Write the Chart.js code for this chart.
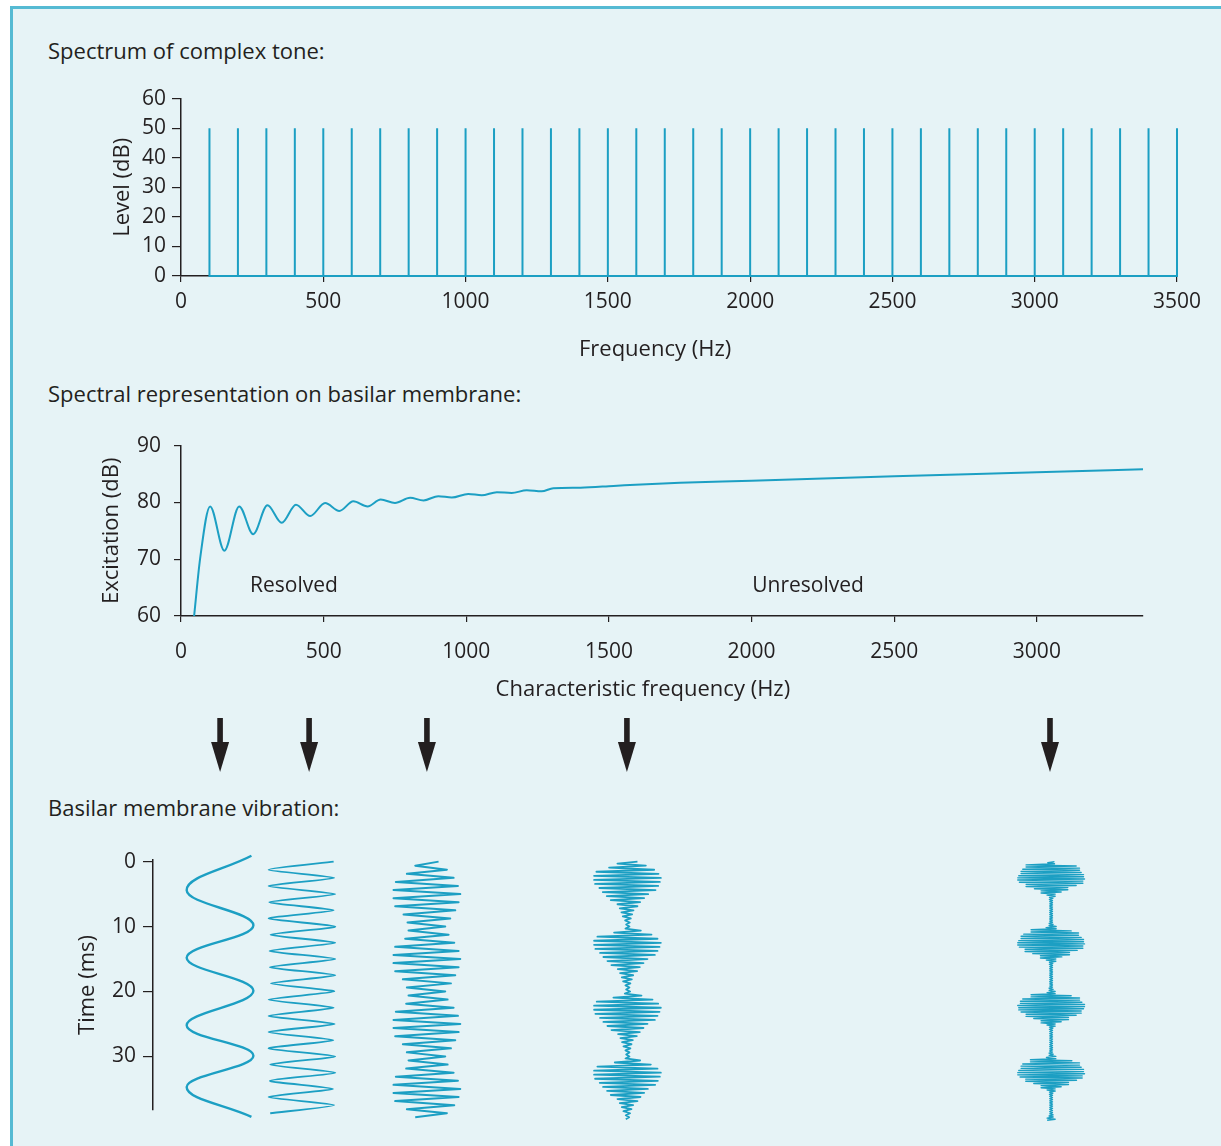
<!DOCTYPE html>
<html>
<head>
<meta charset="utf-8">
<script src="https://cdn.jsdelivr.net/npm/chart.js@4.4.0/dist/chart.umd.min.js"></script>
<style>
  html, body { margin: 0; padding: 0; background: #fff; }
  body { width: 1221px; height: 1146px; position: relative; overflow: hidden;
         font-family: "Open Sans", sans-serif; color: #231f20; }
  #frame { position: absolute; left: 10px; top: 6px; width: 1240px; height: 1200px;
           border: 3px solid #55bad3; background: #e6f3f6; }
  .head { position: absolute; left: 48px; font-size: 22px; font-weight: 500; line-height: 24px; white-space: nowrap; }
  canvas { position: absolute; left: 0; }
</style>
</head>
<body>
<div id="frame"></div>
<div class="head" style="top:38px">Spectrum of complex tone:</div>
<div class="head" style="top:381px">Spectral representation on basilar membrane:</div>
<div class="head" style="top:795px">Basilar membrane vibration:</div>
<canvas id="spectrum" width="1221" height="300" style="top:80px"></canvas>
<canvas id="excitation" width="1221" height="370" style="top:420px"></canvas>
<canvas id="vibration" width="1221" height="316" style="top:830px"></canvas>
<script>
// spectrum of the complex tone
const harmonicsHz = [100, 200, 300, 400, 500, 600, 700, 800, 900, 1000, 1100, 1200, 1300, 1400, 1500, 1600, 1700,
  1800, 1900, 2000, 2100, 2200, 2300, 2400, 2500, 2600, 2700, 2800, 2900, 3000, 3100, 3200, 3300, 3400, 3500];
const harmonicLevelsDb = [50, 50, 50, 50, 50, 50, 50, 50, 50, 50, 50, 50, 50, 50, 50, 50, 50,
  50, 50, 50, 50, 50, 50, 50, 50, 50, 50, 50, 50, 50, 50, 50, 50, 50, 50];
const spectrumFreqTicks = [0, 500, 1000, 1500, 2000, 2500, 3000, 3500];
const spectrumLevelTicks = [0, 10, 20, 30, 40, 50, 60];

// excitation pattern
const excitationCfHz = [46, 67, 102, 152, 204, 253, 303, 353, 403, 453, 505, 555, 604, 654, 700, 750, 803, 850,
  902, 949, 1007, 1054, 1107, 1159, 1212, 1264, 1305, 1400, 1516, 1632, 1749, 2000, 2500, 3000, 3372];
const excitationDb = [60, 70.1, 79.3, 71.5, 79.3, 74.4, 79.5, 76.4, 79.6, 77.6, 79.9, 78.5, 80.2, 79.3, 80.5, 79.9, 80.8, 80.35,
  81.1, 80.85, 81.5, 81.25, 81.8, 81.65, 82.15, 81.95, 82.5, 82.6, 82.9, 83.2, 83.45, 83.8, 84.6, 85.3, 85.85];
const cfTicks = [0, 500, 1000, 1500, 2000, 2500, 3000];
const excitationTicks = [60, 70, 80, 90];
const regionLabels = ['Resolved', 'Unresolved'];
const regionLabelCfHz = [396, 2198];
const regionLabelDb = [65.3, 65.3];

// basilar membrane vibration at five places
const channelCfHz = [137, 449, 862, 1563, 3046];
const traceCentreHz = [137, 424, 862, 1565, 3050];
const channelCarrierHz = [100, 400, 800, 1600, 3000];
const wave1TimeMs = [-0.9, 4.4, 9.8, 14.8, 19.9, 25.2, 29.9, 34.7, 39.3];
const wave1Level = [0.94, -1, 1, -1, 1, -1, 1, -1, 0.94];
// envelopes read every 1 ms (waves 2, 3) and every 0.5 ms (waves 4, 5)
const wave2Envelope = [0.95, 1, 0.97, 1, 0.93, 1, 0.98, 0.95, 1, 0.96, 1, 0.94, 1, 0.97, 0.95, 1, 0.96, 1, 0.93, 1,
  0.97, 1, 0.95, 1, 0.96, 0.98, 1, 0.94, 1, 0.97, 1, 0.95, 1, 0.96, 1, 0.93, 1, 0.97, 0.95, 1];
const wave3Envelope = [0.35, 0.6, 0.8, 0.93, 1.0, 1.0, 0.95, 0.85, 0.7, 0.58, 0.55, 0.65, 0.82, 0.95, 1.0, 1.0, 0.95, 0.85, 0.72, 0.6,
  0.55, 0.62, 0.8, 0.93, 1.0, 1.0, 0.95, 0.85, 0.72, 0.6, 0.55, 0.62, 0.8, 0.93, 1.0, 1.0, 0.95, 0.82, 0.6, 0.35];
const wave4Envelope = [
  0.3, 0.55, 0.8, 0.93, 1, 1, 0.97, 0.92, 0.84, 0.74, 0.62, 0.5, 0.38, 0.3, 0.23, 0.18, 0.14, 0.1, 0.07, 0.04,
  0.06, 0.4, 0.72, 0.9, 1, 1, 0.96, 0.9, 0.82, 0.72, 0.6, 0.48, 0.37, 0.29, 0.22, 0.17, 0.13, 0.09, 0.06, 0.04,
  0.08, 0.42, 0.75, 0.92, 1, 1, 0.96, 0.9, 0.82, 0.72, 0.6, 0.48, 0.37, 0.28, 0.21, 0.16, 0.12, 0.09, 0.06, 0.04,
  0.06, 0.38, 0.7, 0.9, 1, 1, 0.97, 0.91, 0.83, 0.73, 0.61, 0.5, 0.39, 0.3, 0.23, 0.17, 0.12, 0.08, 0.05, 0.05];
const wave5Envelope = [
  0.1, 0.75, 0.85, 0.9, 0.97, 1, 0.95, 0.75, 0.5, 0.3, 0.12, 0.05, 0.04, 0.04, 0.04, 0.04, 0.04, 0.04, 0.04, 0.06,
  0.15, 0.6, 0.82, 0.9, 0.97, 1, 0.95, 0.78, 0.55, 0.32, 0.14, 0.05, 0.04, 0.04, 0.04, 0.04, 0.04, 0.04, 0.04, 0.06,
  0.12, 0.6, 0.85, 0.92, 1, 0.97, 0.9, 0.75, 0.52, 0.3, 0.12, 0.05, 0.04, 0.04, 0.04, 0.04, 0.04, 0.04, 0.04, 0.06,
  0.14, 0.62, 0.85, 0.9, 0.97, 1, 0.93, 0.76, 0.52, 0.3, 0.12, 0.05, 0.04, 0.04, 0.04, 0.04, 0.04, 0.04, 0.06, 0.12];
const timeTicks = [0, 10, 20, 30];

const CYAN = '#1c9fc3';
const INK = '#231f20';
const TRACE_HALF_WIDTH_HZ = 117;
const FONT = '"Open Sans", sans-serif';

Chart.defaults.font.family = FONT;
Chart.defaults.font.size = 21;
Chart.defaults.font.weight = 500;
Chart.defaults.color = INK;

function fixedTicks(list) {
  return scale => { scale.ticks = list.map(v => ({ value: v })); };
}

// one stem per harmonic, joined along 0 dB
const spectrumPoints = [];
harmonicsHz.forEach((f, i) => {
  spectrumPoints.push({ x: f, y: 0 }, { x: f, y: harmonicLevelsDb[i] }, { x: f, y: 0 });
});

const excitationPoints = excitationCfHz.map((f, i) => ({ x: f, y: excitationDb[i] }));

// half-cycle peaks of the carrier, scaled by the envelope
function tracePoints(cf, carrier, env, stepMs) {
  const half = 500 / carrier;
  const endMs = env.length * stepMs;
  const pts = [];
  for (let k = 0; k * half < endMs; k++) {
    const t = k * half;
    const a = env[Math.floor(t / stepMs + 1e-9)];
    pts.push({ x: cf + (k % 2 ? -a : a) * TRACE_HALF_WIDTH_HZ, y: t });
  }
  return pts;
}

const wave1Points = wave1TimeMs.map((t, i) => ({ x: traceCentreHz[0] + wave1Level[i] * TRACE_HALF_WIDTH_HZ, y: t }));
const tracePointSets = [
  wave1Points,
  tracePoints(traceCentreHz[1], channelCarrierHz[1], wave2Envelope, 1),
  tracePoints(traceCentreHz[2], channelCarrierHz[2], wave3Envelope, 1),
  tracePoints(traceCentreHz[3], channelCarrierHz[3], wave4Envelope, 0.5),
  tracePoints(traceCentreHz[4], channelCarrierHz[4], wave5Envelope, 0.5)
];

const axisGrid = len => ({ drawOnChartArea: false, tickLength: len, color: INK, lineWidth: 1.2 });
const axisBorder = { color: INK, width: 1.5 };
const noPlugins = { legend: { display: false }, tooltip: { enabled: false } };

// x-axis caption placed under a given value, a little left of centre as in the figure
const axisCaption = {
  id: 'axisCaption',
  afterDraw(chart, args, opts) {
    const { ctx } = chart;
    ctx.save();
    ctx.fillStyle = INK;
    ctx.font = '500 22px ' + FONT;
    ctx.textAlign = 'center';
    ctx.textBaseline = 'middle';
    ctx.fillText(opts.text, chart.scales.x.getPixelForValue(opts.at), chart.chartArea.bottom + opts.offset);
    ctx.restore();
  }
};

// top panel
new Chart(document.getElementById('spectrum'), {
  type: 'line',
  data: { datasets: [{ data: spectrumPoints, borderColor: CYAN, borderWidth: 2, pointRadius: 0, tension: 0, clip: false }] },
  options: {
    responsive: false, animation: false, events: [],
    layout: { padding: { left: 0, right: 44, top: 15, bottom: 0 } },
    plugins: { ...noPlugins, axisCaption: { text: 'Frequency (Hz)', at: 1666, offset: 74 } },
    scales: {
      x: {
        type: 'linear', min: 0, max: 3500,
        afterBuildTicks: fixedTicks(spectrumFreqTicks),
        afterFit: s => { s.height = 104; },
        grid: axisGrid(6), border: axisBorder,
        ticks: { padding: 7, maxRotation: 0, callback: v => String(v) }
      },
      y: {
        min: 0, max: 60,
        afterBuildTicks: fixedTicks(spectrumLevelTicks),
        afterFit: s => { s.width = 181; },
        grid: axisGrid(9), border: axisBorder,
        ticks: { padding: 6, callback: v => String(v) },
        title: { display: true, text: 'Level (dB)', font: { size: 22 }, padding: { top: 110, bottom: 0 } }
      }
    }
  },
  plugins: [axisCaption]
});

// labels and arrows for the middle panel
const middleExtras = {
  id: 'middleExtras',
  afterDraw(chart) {
    const { ctx, scales: { x, y } } = chart;
    ctx.save();
    ctx.fillStyle = INK;
    ctx.font = '500 21px ' + FONT;
    ctx.textAlign = 'center';
    ctx.textBaseline = 'middle';
    regionLabels.forEach((t, i) => {
      ctx.fillText(t, x.getPixelForValue(regionLabelCfHz[i]), y.getPixelForValue(regionLabelDb[i]));
    });
    const top = chart.chartArea.bottom + 102;
    channelCfHz.forEach(cf => {
      const px = x.getPixelForValue(cf);
      ctx.fillRect(px - 2.8, top, 5.6, 26);
      ctx.beginPath();
      ctx.moveTo(px - 9, top + 24);
      ctx.lineTo(px + 9, top + 24);
      ctx.lineTo(px, top + 54);
      ctx.closePath();
      ctx.fill();
    });
    ctx.restore();
  }
};

new Chart(document.getElementById('excitation'), {
  type: 'line',
  data: { datasets: [{ data: excitationPoints, borderColor: CYAN, borderWidth: 2, pointRadius: 0,
    cubicInterpolationMode: 'monotone', clip: false }] },
  options: {
    responsive: false, animation: false, events: [],
    layout: { padding: { left: 0, right: 78, top: 20, bottom: 80 } },
    plugins: { ...noPlugins, axisCaption: { text: 'Characteristic frequency (Hz)', at: 1619, offset: 74 } },
    scales: {
      x: {
        type: 'linear', min: 0, max: 3372,
        afterBuildTicks: fixedTicks(cfTicks),
        afterFit: s => { s.height = 94; },
        grid: axisGrid(6), border: axisBorder,
        ticks: { padding: 17, maxRotation: 0, callback: v => String(v) }
      },
      y: {
        min: 60, max: 90,
        afterBuildTicks: fixedTicks(excitationTicks),
        afterFit: s => { s.width = 181; },
        grid: axisGrid(7), border: axisBorder,
        ticks: { padding: 13, callback: v => String(v) },
        title: { display: true, text: 'Excitation (dB)', font: { size: 22 }, padding: { top: 99, bottom: 0 } }
      }
    }
  },
  plugins: [middleExtras, axisCaption]
});

// bottom panel
const traceWidths = [2.4, 1.8, 2.0, 1.8, 1.4];
const traceTension = [0.4, 0.2, 0, 0, 0];
new Chart(document.getElementById('vibration'), {
  type: 'line',
  data: {
    datasets: tracePointSets.map((pts, i) => ({
      data: pts, borderColor: CYAN, borderWidth: traceWidths[i], pointRadius: 0,
      tension: traceTension[i], borderJoinStyle: 'round', clip: false
    }))
  },
  options: {
    responsive: false, animation: false, events: [],
    layout: { padding: { left: 0, right: 78, top: 30, bottom: 36 } },
    plugins: noPlugins,
    scales: {
      x: { type: 'linear', min: -98, max: 3372, display: false },
      y: {
        min: -0.25, max: 38.25, reverse: true,
        afterBuildTicks: fixedTicks(timeTicks),
        afterFit: s => { s.width = 153; },
        grid: axisGrid(10), border: axisBorder,
        ticks: { padding: 7, callback: v => String(v) },
        title: { display: true, text: 'Time (ms)', font: { size: 22 }, padding: { top: 75, bottom: 0 } }
      }
    }
  }
});
</script>
</body>
</html>
